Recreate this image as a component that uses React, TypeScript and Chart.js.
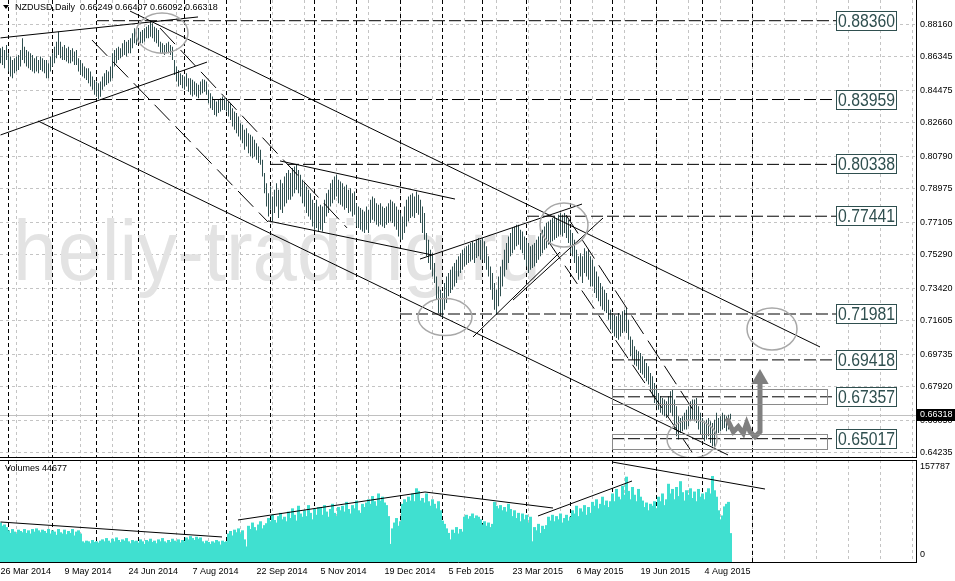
import React, { useEffect, useRef } from "react";
import { Chart, registerables } from "chart.js";

Chart.register(...registerables);

const TITLE = "NZDUSD,Daily  0.66249 0.66407 0.66092 0.66318";
const WATERMARK = "heliy-trading.ru";
const VOLUME_TITLE = "Volumes 44677";
const CURRENT_PRICE = 0.66318;

// daily highs (bar index 0 = 26 Mar 2014)
const HIGHS = [
  0.8682, 0.8691, 0.8673, 0.8701, 0.8654, 0.8636, 0.8617, 0.8626, 0.8636, 0.8645,
  0.8673, 0.8738, 0.8691, 0.8673, 0.8664, 0.8654, 0.8645, 0.8626, 0.8636, 0.8617,
  0.8636, 0.8626, 0.8617, 0.8617, 0.8598, 0.8636, 0.8654, 0.8691, 0.8719, 0.8775,
  0.8719, 0.8691, 0.8701, 0.8682, 0.8691, 0.8673, 0.8682, 0.8664, 0.8673, 0.8626,
  0.8617, 0.8598, 0.858, 0.857, 0.857, 0.8552, 0.8524, 0.8505, 0.8496, 0.8487,
  0.8496, 0.8524, 0.8543, 0.8561, 0.8552, 0.858, 0.8654, 0.8673, 0.8682, 0.8691,
  0.8682, 0.871, 0.8729, 0.8719, 0.8729, 0.8738, 0.8766, 0.8794, 0.8784, 0.8794,
  0.8775, 0.8784, 0.8794, 0.8803, 0.8812, 0.8836, 0.8822, 0.8803, 0.8794, 0.8784,
  0.8719, 0.871, 0.8701, 0.871, 0.8719, 0.8701, 0.8691, 0.8617, 0.858, 0.8561,
  0.8543, 0.8533, 0.8524, 0.8543, 0.8515, 0.8515, 0.8506, 0.8496, 0.8487, 0.8478,
  0.8496, 0.8509, 0.8506, 0.8496, 0.845, 0.8431, 0.8413, 0.8394, 0.8385, 0.8394,
  0.8403, 0.8413, 0.8403, 0.8394, 0.8385, 0.8375, 0.8347, 0.8329, 0.832, 0.8301,
  0.8264, 0.8255, 0.8227, 0.8236, 0.8208, 0.8199, 0.8189, 0.8171, 0.8152, 0.8134,
  0.8115, 0.8059, 0.7985, 0.7929, 0.7873, 0.791, 0.7855, 0.7892, 0.7929, 0.7892,
  0.7948, 0.7929, 0.7966, 0.7985, 0.8003, 0.7985, 0.8013, 0.8022, 0.8031, 0.8003,
  0.7976, 0.7948, 0.7929, 0.791, 0.7892, 0.7873, 0.7836, 0.7817, 0.7836, 0.7799,
  0.7808, 0.7799, 0.7836, 0.7873, 0.7892, 0.7929, 0.7948, 0.7966, 0.7976, 0.7948,
  0.7938, 0.7929, 0.791, 0.792, 0.7892, 0.7901, 0.7873, 0.7882, 0.7817, 0.7799,
  0.779, 0.778, 0.7771, 0.7799, 0.778, 0.7836, 0.7855, 0.7845, 0.7817, 0.7808,
  0.7817, 0.7799, 0.779, 0.7799, 0.7817, 0.7836, 0.7827, 0.7817, 0.7799, 0.778,
  0.7762, 0.7743, 0.7799, 0.7836, 0.7855, 0.7864, 0.7873, 0.7855, 0.7882, 0.7864,
  0.7836, 0.7799, 0.7762, 0.765, 0.7613, 0.7557, 0.7538, 0.7483, 0.7408, 0.7352,
  0.7334, 0.7315, 0.7371, 0.7408, 0.7427, 0.7445, 0.7464, 0.7483, 0.7501, 0.752,
  0.7538, 0.7557, 0.7566, 0.7576, 0.7585, 0.7594, 0.7604, 0.7594, 0.7613, 0.7622,
  0.7613, 0.7622, 0.7604, 0.7576, 0.752, 0.7464, 0.7427, 0.7371, 0.7334, 0.7408,
  0.7464, 0.7501, 0.7557, 0.7594, 0.7631, 0.765, 0.7678, 0.7687, 0.7697, 0.7697,
  0.7669, 0.7659, 0.7631, 0.7613, 0.7594, 0.7576, 0.7585, 0.7594, 0.7613, 0.7631,
  0.765, 0.7669, 0.7687, 0.7706, 0.7715, 0.7724, 0.7734, 0.7743, 0.7734, 0.7752,
  0.7762, 0.7752, 0.7762, 0.7743, 0.7724, 0.7669, 0.765, 0.7613, 0.7557, 0.752,
  0.7538, 0.752, 0.7566, 0.7548, 0.7557, 0.752, 0.7501, 0.7464, 0.7436, 0.7408,
  0.7371, 0.7352, 0.7334, 0.7315, 0.7278, 0.7222, 0.7204, 0.7194, 0.7185, 0.7204,
  0.7194, 0.7213, 0.7222, 0.7232, 0.7166, 0.7073, 0.7055, 0.7018, 0.6999, 0.699,
  0.698, 0.6962, 0.6943, 0.6925, 0.6906, 0.6869, 0.685, 0.6813, 0.6785, 0.6757,
  0.6739, 0.6729, 0.672, 0.6711, 0.6739, 0.6767, 0.6776, 0.672, 0.6683, 0.6627,
  0.6618, 0.6627, 0.6646, 0.6664, 0.6683, 0.6711, 0.672, 0.672, 0.6729, 0.6683,
  0.6646, 0.6618, 0.6599, 0.6608, 0.6618, 0.6599, 0.659, 0.6608, 0.6646, 0.6618,
  0.6627, 0.6646, 0.6636, 0.6627, 0.6636, 0.66407,
];

// daily lows
const LOWS = [
  0.8598, 0.8589, 0.857, 0.8617, 0.8552, 0.8524, 0.8515, 0.8543, 0.8552, 0.8561,
  0.858, 0.8617, 0.8598, 0.858, 0.857, 0.8561, 0.8552, 0.8543, 0.8552, 0.8543,
  0.8561, 0.8552, 0.8543, 0.8515, 0.8515, 0.8552, 0.858, 0.8598, 0.8626, 0.8645,
  0.8626, 0.8617, 0.8617, 0.8608, 0.8598, 0.8598, 0.8608, 0.8589, 0.8589, 0.8552,
  0.8533, 0.8524, 0.8515, 0.8505, 0.8487, 0.8468, 0.845, 0.8422, 0.8412, 0.8398,
  0.8412, 0.845, 0.8468, 0.8477, 0.8487, 0.8496, 0.8515, 0.858, 0.8598, 0.8617,
  0.8626, 0.8636, 0.8645, 0.8636, 0.8654, 0.8654, 0.8682, 0.871, 0.8701, 0.8719,
  0.871, 0.871, 0.8719, 0.8738, 0.8738, 0.8747, 0.8738, 0.8719, 0.871, 0.8691,
  0.8654, 0.8654, 0.8645, 0.8654, 0.8654, 0.8645, 0.8617, 0.8533, 0.8496, 0.8468,
  0.8477, 0.8459, 0.845, 0.8468, 0.844, 0.8422, 0.8413, 0.8422, 0.8413, 0.8403,
  0.8422, 0.8431, 0.844, 0.8422, 0.8375, 0.8347, 0.8338, 0.831, 0.8301, 0.832,
  0.8329, 0.8338, 0.8338, 0.8329, 0.8301, 0.8282, 0.8245, 0.8227, 0.8208, 0.8189,
  0.8171, 0.8152, 0.8115, 0.8134, 0.8096, 0.8078, 0.8068, 0.8078, 0.8059, 0.8041,
  0.8031, 0.7966, 0.7873, 0.7799, 0.7743, 0.778, 0.7715, 0.7762, 0.7799, 0.7734,
  0.778, 0.7762, 0.7799, 0.7817, 0.7836, 0.7836, 0.7855, 0.7873, 0.7892, 0.7873,
  0.7855, 0.7817, 0.7799, 0.7762, 0.7743, 0.7724, 0.7687, 0.7669, 0.7678, 0.7659,
  0.7669, 0.7659, 0.7706, 0.7743, 0.7762, 0.7799, 0.7817, 0.7836, 0.7855, 0.7817,
  0.7808, 0.7799, 0.778, 0.779, 0.7762, 0.7771, 0.7743, 0.7752, 0.7687, 0.7678,
  0.7669, 0.7659, 0.765, 0.7669, 0.765, 0.7706, 0.7724, 0.7715, 0.7697, 0.7687,
  0.7697, 0.7687, 0.7678, 0.7697, 0.7706, 0.7715, 0.7706, 0.7687, 0.7669, 0.7631,
  0.7613, 0.7613, 0.765, 0.7687, 0.7715, 0.7734, 0.7743, 0.7734, 0.7762, 0.7752,
  0.7706, 0.765, 0.7613, 0.752, 0.7483, 0.7445, 0.7408, 0.7371, 0.7278, 0.7204,
  0.7185, 0.7176, 0.7222, 0.7259, 0.7297, 0.7315, 0.7334, 0.7352, 0.7371, 0.7408,
  0.7427, 0.7445, 0.7464, 0.7473, 0.7483, 0.7492, 0.7501, 0.7483, 0.7511, 0.752,
  0.7501, 0.7501, 0.7483, 0.7445, 0.7408, 0.7334, 0.7278, 0.7222, 0.7194, 0.7241,
  0.7297, 0.7352, 0.7408, 0.7445, 0.7483, 0.752, 0.7538, 0.7557, 0.7576, 0.7585,
  0.7557, 0.7538, 0.7501, 0.7464, 0.7427, 0.7445, 0.7455, 0.7464, 0.7483, 0.7501,
  0.752, 0.7538, 0.7557, 0.7566, 0.7585, 0.7594, 0.7604, 0.7613, 0.7622, 0.7631,
  0.7641, 0.7631, 0.765, 0.7622, 0.7594, 0.7538, 0.752, 0.7483, 0.7427, 0.739,
  0.7408, 0.7371, 0.7427, 0.7408, 0.739, 0.7352, 0.7352, 0.7315, 0.7287, 0.7269,
  0.7241, 0.7222, 0.7213, 0.7204, 0.7166, 0.7111, 0.7092, 0.7073, 0.7064, 0.7055,
  0.7073, 0.7092, 0.7101, 0.7092, 0.7055, 0.6962, 0.6943, 0.6915, 0.6906, 0.6887,
  0.6869, 0.686, 0.6841, 0.6822, 0.6804, 0.6767, 0.6739, 0.6701, 0.6683, 0.6664,
  0.6646, 0.6636, 0.6627, 0.6618, 0.6627, 0.6646, 0.6627, 0.6553, 0.6515, 0.6497,
  0.6534, 0.6543, 0.6553, 0.6553, 0.6571, 0.6599, 0.6608, 0.6599, 0.659, 0.6553,
  0.6525, 0.6506, 0.6487, 0.6497, 0.6515, 0.6478, 0.646, 0.645, 0.6525, 0.6534,
  0.6543, 0.6553, 0.6562, 0.6543, 0.6553, 0.66092,
];

// tick volume, thousands
const VOLUMES_K = [
  61, 56, 58, 54,
  49, 45, 51, 47, 44, 50, 48, 46, 51, 45, 49, 44,
  51, 47, 52, 49, 46, 50, 48,
  45, 51, 44, 49, 47, 42, 51, 46, 44, 50, 43, 48, 45, 51, 41, 47, 49, 44,
  32, 30, 33, 32, 29, 34, 31, 32, 30, 33,
  35, 32, 37, 33, 30, 36, 32, 38, 34, 31, 35, 33, 37, 32, 29, 34, 32,
  33, 30, 35, 32, 28, 34, 32, 36, 31, 33, 29, 35, 32, 37, 32, 30, 34, 31, 36, 33, 32, 35, 30, 34, 32,
  38, 35, 40, 37, 34, 39, 36, 38,
  32, 29, 33, 31, 28, 32, 30, 34, 32, 27, 33, 31, 32,
  44, 48, 41, 50, 46, 52, 44, 49, 35, 24,
  56, 51, 61, 54, 49, 58, 63, 52, 57, 60,
  68, 63, 73, 65, 61, 71, 76, 66, 70, 63,
  78, 68, 83, 73, 64, 87, 75, 70, 80, 71, 88, 76, 66, 82, 73, 85,
  84, 73, 88, 78, 70, 82, 90, 76, 71, 85, 80,
  87, 78, 93, 82, 75, 88, 83, 95, 80, 76, 90, 85, 92,
  97, 90, 102, 94, 87, 106, 95, 101, 92, 88,
  71, 28, 52, 61, 68, 56, 63,
  90, 97, 93, 101, 95, 106, 94, 114, 110, 95,
  99, 92, 106, 94, 87, 97, 90, 83, 94, 80,
  64, 59, 52, 45, 35,
  50, 45, 54, 44, 51, 47,
  70, 73, 67, 71, 75, 68, 72, 70, 66,
  58, 63, 56, 61, 54, 59,
  93, 87, 83, 88, 80, 85, 78, 90, 82,
  71, 80, 68, 76, 63, 75, 66, 73, 61, 70,
  32, 54, 49, 59, 45, 56, 51, 57,
  70, 64, 73, 63, 71, 66, 75, 61, 68, 73, 64, 70,
  80, 75, 87, 71, 83, 78, 88, 73, 85, 76,
  93, 87, 97, 83, 90, 101, 88, 95, 85, 94,
  106, 94, 113, 101, 97, 118, 104, 132,
  110, 97, 116, 104, 94, 113, 101,
  95, 85, 92, 80, 90, 87, 94, 83,
  101, 94, 106, 88, 97,
  121, 106, 113, 97, 116, 102, 125, 108, 95, 111,
  104, 114, 99, 109, 94, 113, 101, 106, 97, 108,
  114, 106, 133, 111, 101,
  80, 66, 72, 86, 90, 93, 44.677,
];

const DATE_LABELS = [
  "26 Mar 2014", "9 May 2014", "24 Jun 2014", "7 Aug 2014", "22 Sep 2014", "5 Nov 2014",
  "19 Dec 2014", "5 Feb 2015", "23 Mar 2015", "6 May 2015", "19 Jun 2015", "4 Aug 2015",
];
const DATE_LABEL_STEP = 32;
const GRID_STEP = 16;
const INDEX_RANGE = [-0.25, 457.75];

const PRICE_TICKS = [
  0.8816, 0.86345, 0.84475, 0.8266, 0.8079, 0.78975, 0.77105,
  0.7529, 0.7342, 0.71605, 0.69735, 0.6792, 0.6605, 0.64235,
];
const PRICE_RANGE = [0.63995, 0.89517];
const VOLUME_MAX_K = 157.787;
const VOLUME_TICK_LABELS = ["157787", "0"];

const MONTH_STARTS = [4, 26, 48, 69, 92, 113, 135, 157, 178, 200, 221, 241, 263, 285, 306, 328, 351, 376];

const LEVELS = [0.8836, 0.83959, 0.80338, 0.77441, 0.71981, 0.69418, 0.67357, 0.65017];
const LEVEL_STARTS = [48.25, 25.75, 135.25, 263.25, 199.75, 305.75, 305.75, 305.75];
const LEVEL_BOX = [417.75, 447.75];

// [startIndex, startPrice, endIndex, endPrice, dashed]
const TREND_LINES: [number, number, number, number, boolean][] = [
  [0, 0.874, 98.75, 0.8857, false],
  [64.75, 0.889, 409.75, 0.7014, false],
  [0, 0.8198, 103.25, 0.8605, false],
  [18.75, 0.8276, 363.75, 0.6411, false],
  [139.75, 0.8053, 227.25, 0.784, false],
  [133.75, 0.7718, 215.75, 0.7528, false],
  [209.75, 0.7505, 290.75, 0.7812, false],
  [236.25, 0.707, 279.75, 0.7544, false],
  [256.25, 0.7276, 301.25, 0.7734, false],
  [45.75, 0.8728, 133.75, 0.7712, true],
  [79.75, 0.8795, 173.25, 0.7679, true],
  [282.75, 0.7751, 348.25, 0.6629, true],
  [273.75, 0.7606, 345.75, 0.6427, true],
];

// [startIndex, startVolumeK, endIndex, endVolumeK]
const VOLUME_LINES = [
  [0, 61.9, 110.75, 38.7],
  [118.75, 65.0, 212.25, 108.3],
  [212.25, 108.3, 276.25, 83.5],
  [268.75, 71.2, 315.75, 125.3],
  [305.75, 154.7, 382.25, 112.9],
];

// [centerIndex, centerPrice, radiusBars, radiusPrice]
const ELLIPSES = [
  [80.75, 0.8767, 13, 0.0112],
  [222.25, 0.7181, 13.5, 0.0103],
  [281.75, 0.7695, 12, 0.0123],
  [385.75, 0.7114, 12.5, 0.0117],
  [345.75, 0.65, 12.5, 0.0106],
];

// [fromIndex, toIndex, topPrice, bottomPrice]
const ZONES = [
  [305.75, 413.25, 0.6779, 0.6696],
  [305.75, 413.25, 0.6528, 0.6444],
];

const ARROW_X = [363.1, 366.4, 368.9, 371.4, 373.1, 374.75, 377.25, 379.75, 379.75];
const ARROW_Y = [0.6616, 0.6541, 0.6569, 0.6532, 0.6588, 0.6541, 0.6513, 0.6541, 0.6807];
const ARROW_HEAD = [379.75, 0.6835];

const FONT = '"Liberation Sans", Arial, sans-serif';

function gridTicks() {
  const t: { value: number }[] = [];
  for (let v = 0; v <= INDEX_RANGE[1]; v += GRID_STEP) t.push({ value: v });
  return t;
}

function xScale(showLabels: boolean) {
  return {
    type: "linear",
    min: INDEX_RANGE[0],
    max: INDEX_RANGE[1],
    offset: false,
    afterBuildTicks: (s: any) => {
      s.ticks = gridTicks();
    },
    afterFit: (s: any) => {
      s.height = showLabels ? 19 : 0;
      s.paddingLeft = 0;
      s.paddingRight = 0;
    },
    grid: { color: "#c4c4c4", lineWidth: 1, drawTicks: false },
    border: { display: true, color: "#000", width: 1, dash: [3, 3] },
    ticks: {
      display: showLabels,
      autoSkip: false,
      maxRotation: 0,
      minRotation: 0,
      align: "start",
      padding: 4,
      color: "#000",
      font: { family: FONT, size: 9 },
      callback: (v: number) =>
        v % DATE_LABEL_STEP === 0 ? DATE_LABELS[v / DATE_LABEL_STEP] ?? "" : "",
    },
  };
}

function drawSeparators(chart: any) {
  const { ctx, chartArea: a, scales } = chart;
  ctx.save();
  ctx.strokeStyle = "#000";
  ctx.lineWidth = 1;
  ctx.setLineDash([4, 3]);
  for (const m of MONTH_STARTS) {
    const px = Math.floor(scales.x.getPixelForValue(m)) + 0.5;
    if (px > a.right) continue;
    ctx.beginPath();
    ctx.moveTo(px, a.top);
    ctx.lineTo(px, a.bottom);
    ctx.stroke();
  }
  ctx.restore();
}

const pricePlugin = {
  id: "pricePanel",
  beforeDatasetsDraw(chart: any) {
    const { ctx, chartArea: a, scales } = chart;
    const { y } = scales;
    ctx.save();
    ctx.beginPath();
    ctx.rect(a.left, a.top, a.right - a.left, a.bottom - a.top);
    ctx.clip();
    ctx.font = `86px ${FONT}`;
    ctx.fillStyle = "#e3e3e3";
    ctx.textBaseline = "alphabetic";
    ctx.textAlign = "left";
    ctx.fillText(WATERMARK, a.left + 13, a.top + 280, 528);
    // bid line
    const by = Math.round(y.getPixelForValue(CURRENT_PRICE)) + 0.5;
    ctx.strokeStyle = "#c0c0c0";
    ctx.lineWidth = 1;
    ctx.beginPath();
    ctx.moveTo(a.left, by);
    ctx.lineTo(a.right, by);
    ctx.stroke();
    ctx.restore();
    drawSeparators(chart);
  },
  afterDatasetsDraw(chart: any) {
    const { ctx, chartArea: a, scales } = chart;
    const { x, y } = scales;
    ctx.save();
    ctx.beginPath();
    ctx.rect(a.left, a.top, a.right - a.left, a.bottom - a.top);
    ctx.clip();
    // zones
    ctx.strokeStyle = "#8a8a8a";
    ctx.lineWidth = 1;
    for (const [i1, i2, p1, p2] of ZONES) {
      const x1 = Math.round(x.getPixelForValue(i1)) + 0.5;
      const x2 = Math.round(x.getPixelForValue(i2)) + 0.5;
      const y1 = Math.round(y.getPixelForValue(p1)) + 0.5;
      const y2 = Math.round(y.getPixelForValue(p2)) + 0.5;
      ctx.strokeRect(x1, y1, x2 - x1, y2 - y1);
    }
    // ellipses
    ctx.strokeStyle = "#a8a8a8";
    ctx.lineWidth = 1.5;
    for (const [ci, cp, ri, rp] of ELLIPSES) {
      const cx = x.getPixelForValue(ci);
      const cy = y.getPixelForValue(cp);
      const rx = Math.abs(x.getPixelForValue(ci + ri) - cx);
      const ry = Math.abs(y.getPixelForValue(cp + rp) - cy);
      ctx.beginPath();
      ctx.ellipse(cx, cy, rx, ry, 0, 0, Math.PI * 2);
      ctx.stroke();
    }
    // level labels
    const bx1 = Math.round(x.getPixelForValue(LEVEL_BOX[0])) + 0.5;
    const bx2 = Math.round(x.getPixelForValue(LEVEL_BOX[1])) + 0.5;
    for (const L of LEVELS) {
      const py = Math.round(y.getPixelForValue(L));
      ctx.fillStyle = "#fff";
      ctx.fillRect(bx1, py - 9.5, bx2 - bx1, 19);
      ctx.strokeStyle = "#2f4f4f";
      ctx.lineWidth = 1;
      ctx.strokeRect(bx1, py - 9.5, bx2 - bx1, 19);
      ctx.fillStyle = "#2f4f4f";
      ctx.font = `18px ${FONT}`;
      ctx.textBaseline = "middle";
      ctx.textAlign = "left";
      ctx.fillText(L.toFixed(5), bx1 + 1.5, py + 1, bx2 - bx1 - 3);
    }
    ctx.restore();
  },
  afterDraw(chart: any) {
    const { ctx, chartArea: a, scales } = chart;
    const { y } = scales;
    ctx.save();
    // title
    ctx.fillStyle = "#000";
    ctx.beginPath();
    ctx.moveTo(a.left + 3, a.top + 5);
    ctx.lineTo(a.left + 9, a.top + 5);
    ctx.lineTo(a.left + 6, a.top + 9);
    ctx.closePath();
    ctx.fill();
    ctx.font = `9px ${FONT}`;
    ctx.textBaseline = "middle";
    ctx.textAlign = "left";
    ctx.fillText(TITLE, a.left + 15, a.top + 7.5);
    // current price tag
    const py = y.getPixelForValue(CURRENT_PRICE);
    ctx.fillStyle = "#000";
    ctx.fillRect(a.right, Math.round(py) - 6, chart.width - a.right, 12);
    ctx.fillStyle = "#fff";
    ctx.fillText(CURRENT_PRICE.toFixed(5), a.right + 4, Math.round(py));
    ctx.restore();
  },
};

const volumePlugin = {
  id: "volumePanel",
  beforeDatasetsDraw(chart: any) {
    drawSeparators(chart);
  },
  afterDraw(chart: any) {
    const { ctx, chartArea: a } = chart;
    ctx.save();
    ctx.strokeStyle = "#000";
    ctx.lineWidth = 1;
    ctx.beginPath();
    ctx.moveTo(a.left, Math.round(a.top) + 0.5);
    ctx.lineTo(a.right, Math.round(a.top) + 0.5);
    ctx.stroke();
    ctx.fillStyle = "#000";
    ctx.font = `9px ${FONT}`;
    ctx.textAlign = "left";
    ctx.textBaseline = "middle";
    ctx.fillText(VOLUME_TITLE, a.left + 5, a.top + 9);
    ctx.fillText(VOLUME_TICK_LABELS[0], a.right + 4, a.top + 7);
    ctx.fillText(VOLUME_TICK_LABELS[1], a.right + 4, a.bottom - 7);
    ctx.restore();
  },
};

function lineDataset(i1: number, p1: number, i2: number, p2: number, dashed: boolean) {
  return {
    type: "line",
    data: [
      { x: i1, y: p1 },
      { x: i2, y: p2 },
    ],
    borderColor: "#000",
    borderWidth: 1,
    borderDash: dashed ? [22, 8] : [],
    pointRadius: 0,
    fill: false,
    tension: 0,
    order: 1,
  };
}

export default function App() {
  const priceRef = useRef<HTMLCanvasElement>(null);
  const volRef = useRef<HTMLCanvasElement>(null);

  useEffect(() => {
    const priceDatasets: any[] = [];
    TREND_LINES.forEach(([i1, p1, i2, p2, d]) => priceDatasets.push(lineDataset(i1, p1, i2, p2, d)));
    LEVELS.forEach((L, k) => {
      const ds: any = lineDataset(LEVEL_STARTS[k], L, LEVEL_BOX[0], L, false);
      ds.borderDash = [12, 4];
      priceDatasets.push(ds);
    });
    priceDatasets.push({
      type: "line",
      data: ARROW_X.map((v, k) => ({ x: v, y: ARROW_Y[k] })),
      borderColor: "#808080",
      borderWidth: 5,
      borderJoinStyle: "miter",
      pointRadius: 0,
      fill: false,
      tension: 0,
      order: 0,
    });
    priceDatasets.push({
      type: "line",
      data: [{ x: ARROW_HEAD[0], y: ARROW_HEAD[1] }],
      showLine: false,
      pointStyle: "triangle",
      pointRadius: 10,
      pointBackgroundColor: "#808080",
      pointBorderWidth: 0,
      order: 0,
    });
    priceDatasets.push({
      type: "bar",
      data: HIGHS.map((h, i) => ({ x: i, y: [LOWS[i], h] })),
      backgroundColor: "#2f4f4f",
      borderWidth: 0,
      barThickness: 1,
      inflateAmount: 0,
      grouped: false,
      order: 10,
    });

    const priceChart = new Chart(priceRef.current as HTMLCanvasElement, {
      type: "bar",
      data: { datasets: priceDatasets },
      options: {
        animation: false,
        responsive: false,
        devicePixelRatio: 1,
        events: [],
        layout: { autoPadding: false, padding: { left: 0, right: 0, top: 0, bottom: 2 } },
        plugins: { legend: { display: false }, tooltip: { enabled: false } },
        scales: {
          x: xScale(false) as any,
          y: {
            type: "linear",
            position: "right",
            min: PRICE_RANGE[0],
            max: PRICE_RANGE[1],
            afterBuildTicks: (s: any) => {
              s.ticks = PRICE_TICKS.map((v) => ({ value: v }));
            },
            afterFit: (s: any) => {
              s.width = 39;
              s.paddingTop = 0;
              s.paddingBottom = 0;
            },
            grid: { color: "#c4c4c4", drawTicks: false },
            border: { display: true, color: "#000", width: 1, dash: [3, 3] },
            ticks: {
              color: "#000",
              padding: 4,
              font: { family: FONT, size: 9 },
              callback: (v: number) => Number(v).toFixed(5),
            },
          },
        },
      } as any,
      plugins: [pricePlugin],
    } as any);

    const volDatasets: any[] = VOLUME_LINES.map(([i1, v1, i2, v2]) => lineDataset(i1, v1, i2, v2, false));
    volDatasets.push({
      type: "bar",
      data: VOLUMES_K.map((v, i) => ({ x: i, y: v })),
      backgroundColor: "#40e0d0",
      borderWidth: 0,
      barThickness: 3,
      inflateAmount: 0,
      grouped: false,
      order: 10,
    });

    const volChart = new Chart(volRef.current as HTMLCanvasElement, {
      type: "bar",
      data: { datasets: volDatasets },
      options: {
        animation: false,
        responsive: false,
        devicePixelRatio: 1,
        events: [],
        layout: { autoPadding: false, padding: { left: 0, right: 0, top: 1, bottom: 0 } },
        plugins: { legend: { display: false }, tooltip: { enabled: false } },
        scales: {
          x: xScale(true) as any,
          y: {
            type: "linear",
            position: "right",
            min: 0,
            max: VOLUME_MAX_K,
            afterFit: (s: any) => {
              s.width = 39;
              s.paddingTop = 0;
              s.paddingBottom = 0;
            },
            grid: { display: false },
            border: { display: true, color: "#000", width: 1 },
            ticks: { display: false },
          },
        },
      } as any,
      plugins: [volumePlugin],
    } as any);

    return () => {
      priceChart.destroy();
      volChart.destroy();
    };
  }, []);

  return (
    <div
      style={{
        position: "absolute",
        left: 0,
        top: 0,
        width: 955,
        height: 581,
        background: "#fff",
        overflow: "hidden",
      }}
    >
      <canvas
        ref={priceRef}
        width={955}
        height={459}
        style={{ position: "absolute", left: 0, top: 0, width: 955, height: 459 }}
      />
      <canvas
        ref={volRef}
        width={955}
        height={122}
        style={{ position: "absolute", left: 0, top: 459, width: 955, height: 122 }}
      />
    </div>
  );
}
